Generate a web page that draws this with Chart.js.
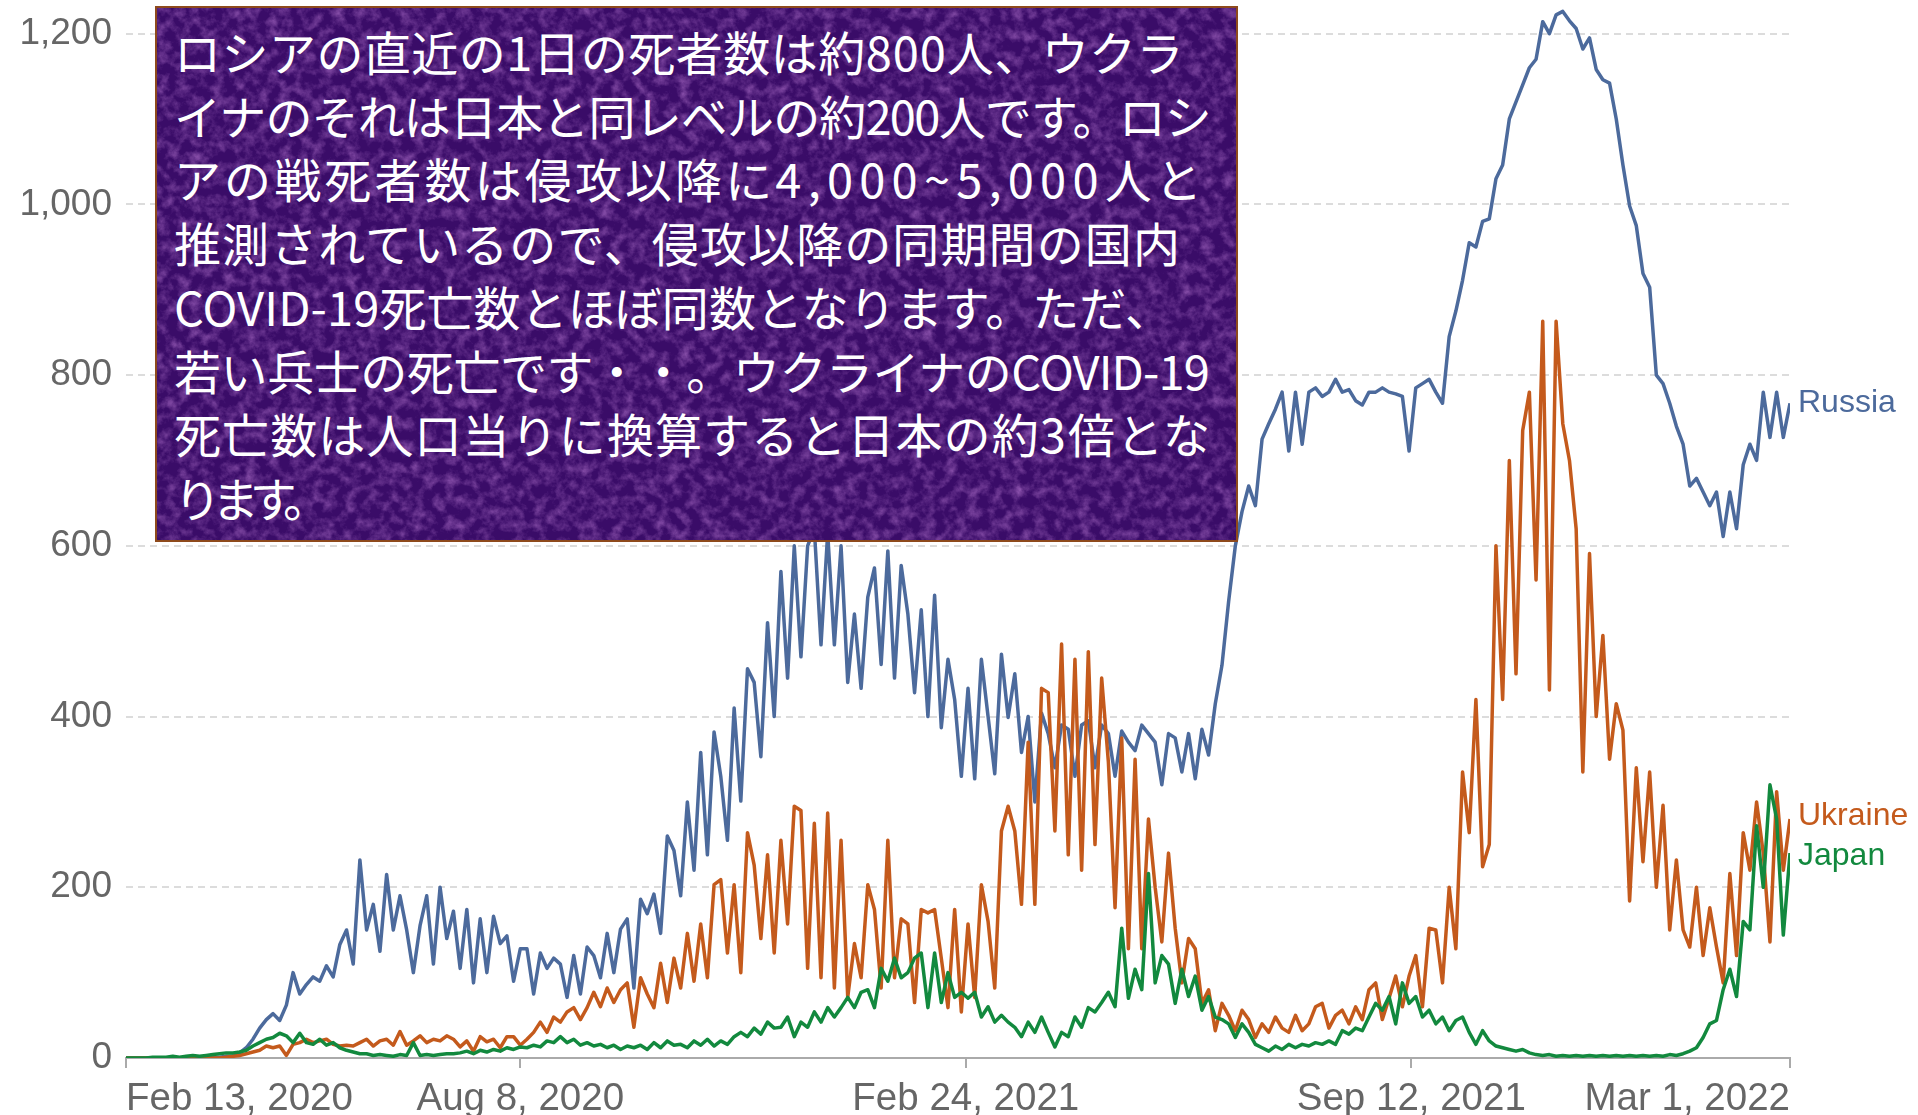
<!DOCTYPE html>
<html>
<head>
<meta charset="utf-8">
<script src="https://cdn.jsdelivr.net/npm/chart.js@4.4.1/dist/chart.umd.min.js"></script>
<style>
  html, body { margin: 0; padding: 0; background: #fff; overflow: hidden; }
  #wrap { position: relative; width: 1918px; height: 1115px; }
  #chart { position: absolute; left: 0; top: 0; }
  #note {
    position: absolute; left: 155px; top: 6px; width: 1083px; height: 536px;
    box-sizing: border-box; border: 2px solid #8e4a1c;
    background-color: #3a0c68;
    background-image: url("data:image/svg+xml,%3Csvg xmlns='http://www.w3.org/2000/svg' width='1083' height='536'%3E%3Cfilter id='n'%3E%3CfeTurbulence type='fractalNoise' baseFrequency='0.09' numOctaves='4' seed='7'/%3E%3CfeColorMatrix values='0 0 0 0 0.40 0 0 0 0 0.15 0 0 0 0 0.56 1.3 0 0 0 -0.52'/%3E%3C/filter%3E%3Crect width='100%25' height='100%25' filter='url(%23n)'/%3E%3C/svg%3E");
    color: #fff;
    font-family: "Noto Sans CJK JP", "Noto Sans", sans-serif;
    font-size: 47px; line-height: 63.7px;
    padding: 11px 0 0 17px;
    white-space: nowrap;
  }
  #note div { display: block; }
</style>
</head>
<body>
<div id="wrap">
  <canvas id="chart" width="1918" height="1115"></canvas>
  <div id="note"></div>
</div>
<script>
// daily deaths, one value every 3 days starting Feb 13, 2020
const dayStep = 3;

const russia = [
  0,0,0,0,0,0,0,0,0,0,0,0,0,1,1,2,
  2,6,12,22,35,45,52,44,62,100,75,86,95,90,108,95,133,150,110,232,150,180,125,215,150,190,150,100,155,190,110,200,140,172,
  105,174,88,163,100,166,134,143,90,128,128,75,123,105,117,110,71,120,75,130,120,94,146,100,151,163,82,186,169,192,146,260,243,190,300,220,358,238,382,330,255,410,301,456,440,353,510,400,570,445,
  600,470,600,620,484,615,484,600,440,520,433,540,574,461,594,445,577,520,428,525,400,542,387,467,420,330,433,327,467,400,333,473,399,450,358,400,300,404,380,340,390,385,330,390,395,340,390,380,330,383,
  370,360,390,380,370,320,380,375,335,380,327,385,355,415,460,535,600,640,670,647,725,743,760,780,711,780,719,780,785,775,780,795,780,783,770,765,780,780,785,780,778,775,711,785,790,795,780,767,845,875,
  911,955,950,980,983,1030,1046,1100,1120,1140,1160,1170,1214,1200,1222,1226,1215,1206,1182,1195,1158,1146,1142,1100,1046,998,975,919,903,800,790,767,740,719,670,679,663,647,663,611,663,620,695,719,700,780,727,780,727,767
];

const ukraine = [
  0,0,0,0,0,0,0,0,0,0,0,0,0,0,0,1,2,3,
  5,7,9,14,12,14,3,16,18,22,18,20,22,16,14,15,14,18,22,14,20,22,15,31,15,20,26,18,22,20,26,22,
  13,20,8,25,19,22,12,25,25,15,22,30,42,30,48,42,54,59,45,59,77,60,82,65,80,88,36,94,75,59,111,65,117,82,146,90,157,94,203,209,123,203,100,264,226,140,238,123,255,157,
  295,290,105,275,94,287,82,255,71,134,94,203,174,82,255,94,163,157,65,174,170,174,117,59,174,54,157,71,203,160,82,266,295,266,180,370,180,433,428,266,485,238,467,220,476,250,445,347,176,375,
  128,350,128,280,200,136,240,152,88,140,128,64,80,32,64,50,32,56,45,24,40,30,48,35,30,50,32,40,60,64,35,50,56,40,60,45,80,88,45,70,96,60,96,120,60,152,150,88,200,128,
  335,264,420,224,250,600,420,700,450,735,780,560,863,431,863,743,700,620,335,591,400,495,350,415,384,184,340,230,335,200,296,150,232,150,130,200,120,176,130,88,216,120,264,220,300,240,136,312,220,280
];

const japan = [
  0,0,0,0,1,1,1,2,1,2,3,2,3,4,5,6,
  6,7,9,14,18,22,24,29,26,18,29,18,16,22,15,18,12,9,7,5,5,3,4,3,2,4,3,18,3,4,3,4,5,5,
  6,8,5,9,7,10,8,12,10,13,12,15,13,20,18,25,18,22,15,18,14,16,12,15,10,14,12,15,10,18,12,20,15,16,12,20,15,22,14,20,16,25,30,25,35,28,42,35,36,48,
  25,42,36,54,42,59,48,59,71,59,77,80,59,105,90,117,94,100,117,123,59,123,65,100,71,77,70,77,48,60,42,50,42,36,25,42,30,48,30,13,30,25,48,36,59,54,65,77,60,152,
  70,104,80,216,88,120,110,64,104,72,96,56,72,48,45,40,24,40,30,16,12,8,14,10,16,12,16,14,18,16,20,16,32,28,35,32,48,64,56,72,40,88,64,72,48,56,40,48,32,44,
  48,30,16,32,20,14,12,10,8,10,6,4,3,4,2,3,2,3,2,3,2,3,2,3,2,3,2,3,2,3,2,4,3,5,8,12,24,40,44,80,104,72,160,150,272,200,320,280,144,240
];

// x ticks in days since Feb 13, 2020
const tickDays = [0, 177, 377, 577, 747];
const tickLabels = ['Feb 13, 2020', 'Aug 8, 2020', 'Feb 24, 2021', 'Sep 12, 2021', 'Mar 1, 2022'];
const yTicks = [0, 200, 400, 600, 800, 1000, 1200];

const seriesNames = ['Russia', 'Ukraine', 'Japan'];
const seriesColors = ['#4c6a9c', '#c45a1c', '#12893e'];

// annotation text, one entry per line as broken in the original
const noteLines = [
  'ロシアの直近の1日の死者数は約800人、ウクラ',
  'イナのそれは日本と同レベルの約200人です。ロシ',
  'アの戦死者数は侵攻以降に4,000~5,000人と',
  '推測されているので、侵攻以降の同期間の国内',
  'COVID-19死亡数とほぼ同数となります。ただ、',
  '若い兵士の死亡です・・。ウクライナのCOVID-19',
  '死亡数は人口当りに換算すると日本の約3倍とな',
  'ります。'
];
// rendered width of each line in the original (px)
const noteWidths = [1010, 1037, 1031, 1007, 998, 1035, 1037, 147];

// latin runs get twice the extra spacing of the japanese runs
const note = document.getElementById('note');
noteLines.forEach((txt, i) => {
  let row = document.createElement('div');
  note.appendChild(row);
  let runs = txt.match(/[\x20-\x7e]+|[^\x20-\x7e]+/g);
  let spans = runs.map((r) => {
    let s = document.createElement('span');
    s.textContent = r;
    s.latin = /^[\x20-\x7e]/.test(r);
    row.appendChild(s);
    return s;
  });
  let natural = spans.reduce((w, s) => w + s.getBoundingClientRect().width, 0);
  let weight = spans.reduce((w, s) => w + s.textContent.length * (s.latin ? 2 : 1), 0);
  let unit = (noteWidths[i] - natural) / weight;
  spans.forEach((s) => {
    s.style.letterSpacing = (unit * (s.latin ? 2 : 1)).toFixed(2) + 'px';
  });
});

function toPoints(arr) {
  return arr.map((v, i) => ({ x: i * dayStep, y: v }));
}

// names at the line ends, pushed apart when they collide
const endLabels = {
  id: 'endLabels',
  afterDatasetsDraw(chart) {
    const ctx = chart.ctx;
    const yScale = chart.scales.y;
    let items = chart.data.datasets.map((ds) => {
      const last = ds.data[ds.data.length - 1].y;
      return { text: ds.label, color: ds.borderColor, y: yScale.getPixelForValue(last) };
    });
    items.sort((a, b) => a.y - b.y);
    const minGap = 40;
    for (let k = 1; k < items.length; k++) {
      const gap = items[k].y - items[k - 1].y;
      if (gap < minGap) {
        const shift = (minGap - gap) / 2;
        items[k - 1].y -= shift;
        items[k].y += shift;
      }
    }
    ctx.save();
    ctx.font = '32px "Liberation Sans", Arial, sans-serif';
    ctx.textBaseline = 'middle';
    ctx.textAlign = 'left';
    items.forEach((it) => {
      ctx.fillStyle = it.color;
      ctx.fillText(it.text, chart.chartArea.right + 8, it.y);
    });
    ctx.restore();
  }
};

const datasets = [russia, ukraine, japan].map((arr, k) => ({
  label: seriesNames[k],
  data: toPoints(arr),
  borderColor: seriesColors[k],
  backgroundColor: seriesColors[k],
  borderWidth: 3.5,
  borderJoinStyle: 'round',
  pointRadius: 0,
  tension: 0,
  order: 3 - k
}));

const axisFont = { family: '"Liberation Sans", Arial, sans-serif', size: 37 };

new Chart(document.getElementById('chart'), {
  type: 'line',
  data: { datasets: datasets },
  options: {
    responsive: false,
    animation: false,
    layout: { padding: { top: 8, right: 128, left: 0, bottom: 0 } },
    plugins: { legend: { display: false }, tooltip: { enabled: false } },
    scales: {
      x: {
        type: 'linear',
        min: 0,
        max: 747,
        afterBuildTicks: (scale) => { scale.ticks = tickDays.map((v) => ({ value: v })); },
        afterFit: (scale) => { scale.height = 57; scale.paddingLeft = 0; scale.paddingRight = 0; },
        ticks: {
          autoSkip: false,
          maxRotation: 0,
          align: 'inner',
          padding: 8,
          color: '#666',
          font: { ...axisFont, size: 38.5 },
          callback: (v) => tickLabels[tickDays.indexOf(v)]
        },
        grid: { drawOnChartArea: false, drawTicks: true, tickLength: 10, color: '#aaa', lineWidth: 2 },
        border: { display: true, color: '#aaa', width: 2 }
      },
      y: {
        min: 0,
        max: 1230,
        afterBuildTicks: (scale) => { scale.ticks = yTicks.map((v) => ({ value: v })); },
        afterFit: (scale) => { scale.width = 126; scale.paddingTop = 0; scale.paddingBottom = 0; },
        ticks: {
          padding: 14,
          color: '#666',
          font: axisFont,
          callback: (v) => v.toLocaleString('en-US')
        },
        grid: { drawTicks: false, color: '#dcdcdc', lineWidth: 2 },
        border: { display: false, dash: [7, 5] }
      }
    }
  },
  plugins: [endLabels]
});
</script>
</body>
</html>
